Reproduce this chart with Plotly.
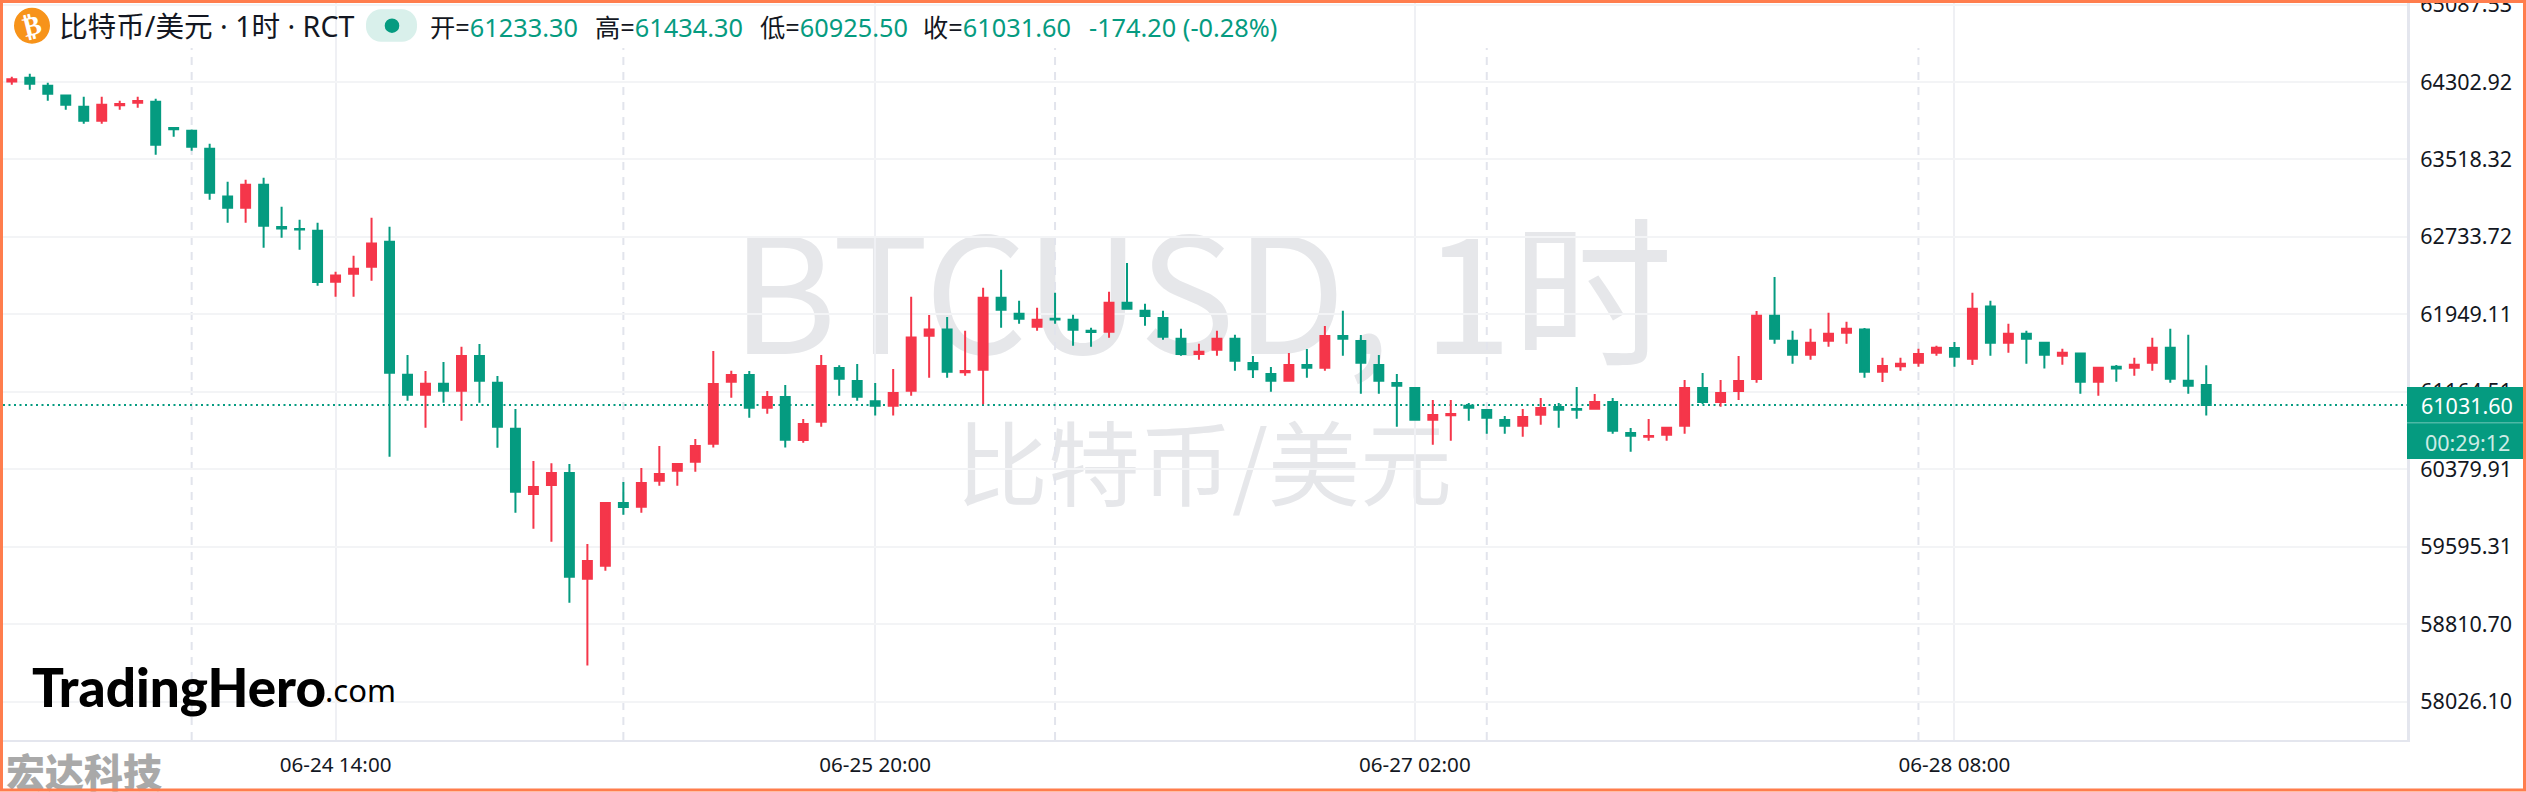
import pandas as pd
import plotly.graph_objects as go

times = pd.date_range("2024-06-23 20:00", periods=123, freq="h")
opens = [64309,64347,64266,64165,64053,63911,64067,64093,64104,63838,63810,63628,63142,63030,63263,62835,62815,62797,62281,62362,
62432,62686,61339,61136,61248,61177,61528,61258,60792,60130,60221,60343,59273,59404,60039,60002,60265,60366,60457,60640,
61268,61336,61004,61113,60677,60863,61406,61275,61069,61025,61176,61734,61795,61362,61389,62119,61957,61825,61905,61896,
61784,61774,62068,61987,61913,61703,61548,61592,61703,61457,61346,61278,61437,61410,61731,61680,61437,61254,61204,60883,
60927,61025,60981,60880,60822,60933,61011,60991,60994,61062,60748,60711,60731,60822,61204,61062,61173,61295,61936,61683,
61541,61683,61764,61795,61369,61423,61460,61562,61609,61501,62028,61663,61754,61663,61531,61552,61268,61420,61410,61460,
61612,61278,61233.30]
highs = [64357,64387,64296,64175,64154,64154,64114,64154,64134,63842,63823,63678,63293,63314,63334,63040,62909,62878,62382,62544,
62929,62838,61538,61376,61467,61622,61649,61325,60991,60464,60441,60434,59624,60049,60252,60393,60616,60444,60687,61578,
61379,61376,61173,61234,60890,61538,61433,61447,61254,61396,62129,61943,61923,61784,62220,62402,62088,62017,62169,61946,
61815,62179,62470,62058,61987,61805,61653,61784,61744,61528,61416,61558,61599,61832,61987,61741,61538,61346,61214,61082,
61082,61052,60991,60920,60991,61102,61052,61214,61143,61102,60799,60890,60812,61285,61356,61285,61528,61984,62328,61784,
61805,61967,61875,61812,61511,61511,61602,61632,61669,62169,62088,61855,61784,61673,61602,61562,61420,61437,61511,61713,
61805,61744,61434.30]
lows = [64276,64225,64114,64023,63881,63881,64023,64043,63567,63749,63607,63111,62878,62878,62625,62726,62605,62240,62129,62129,
62291,60508,61075,60802,61055,60873,61055,60599,59941,59779,59647,59030,58392,59354,59921,59941,60215,60215,60356,60600,
61106,60903,60944,60600,60650,60812,61126,61075,60924,60924,61126,61308,61308,61329,61038,61815,61855,61784,61855,61632,
61622,61713,61997,61835,61693,61531,61491,61531,61379,61305,61167,61268,61308,61379,61531,61146,61146,60812,60873,60630,
60670,60873,60741,60741,60711,60832,60802,60893,60984,60741,60559,60670,60670,60741,61042,61015,61082,61258,61653,61450,
61491,61622,61653,61308,61264,61379,61420,61531,61420,61437,61531,61562,61450,61400,61440,61146,61126,61268,61329,61379,
61258,61146,60925.50]
closes = [64330,64286,64185,64073,63911,64073,64080,64111,63668,63825,63648,63182,63030,63263,62848,62820,62810,62277,62342,62412,
62666,61359,61136,61248,61177,61528,61278,60812,60154,60201,60343,59293,59452,60039,59998,60242,60333,60434,60616,61244,
61336,61004,61113,60680,60839,61427,61298,61116,61025,61153,61714,61795,61369,61376,62119,61997,61906,61896,61897,61794,
61771,62068,62007,61933,61723,61548,61572,61703,61480,61393,61278,61437,61410,61731,61703,61460,61278,61227,60883,60930,
60940,61004,60903,60822,60910,61001,60984,60984,61062,60771,60721,60718,60802,61204,61062,61153,61275,61936,61703,61541,
61663,61754,61805,61369,61427,61450,61548,61612,61521,62007,61663,61754,61703,61541,61562,61268,61410,61400,61440,61612,
61298,61227,61031.60]

price_ticks = [65087.53,64302.92,63518.32,62733.72,61949.11,61164.51,60379.91,59595.31,58810.70,58026.10]
time_ticks = ["2024-06-24 14:00","2024-06-25 20:00","2024-06-27 02:00","2024-06-28 08:00"]
time_labels = ["06-24 14:00","06-25 20:00","06-27 02:00","06-28 08:00"]
day_marks = ["2024-06-24 06:00","2024-06-25 06:00","2024-06-26 06:00","2024-06-27 06:00","2024-06-28 06:00"]
last_price = 61031.60
countdown = "00:29:12"

UP = "#F5364A"
DOWN = "#059B80"
INK = "#131722"
WARM = "#FF7D4D"
BASE = "'Noto Sans', 'Noto Sans CJK SC', sans-serif"
CJK = "'Noto Sans CJK SC', sans-serif"

L, R, B, W, H = 3, 2407, 740, 2526, 792
def fx(p): return (p - L) / (R - L)
def fy(p): return 1 - p / B

fig = go.Figure(go.Candlestick(
    x=times, open=opens, high=highs, low=lows, close=closes,
    increasing=dict(line=dict(color=UP, width=2), fillcolor=UP),
    decreasing=dict(line=dict(color=DOWN, width=2), fillcolor=DOWN),
    whiskerwidth=0, hoverinfo="skip", showlegend=False,
))

def box(x0, y0, x1, y1, **kw):
    return dict(type="rect", xref="paper", yref="paper", x0=fx(x0), x1=fx(x1), y0=fy(y0), y1=fy(y1), **kw)

def pill(x0, y0, x1, y1, r):
    k = r * 0.45
    pts = [("M", x0 + r, y0), ("L", x1 - r, y0), ("C", x1 - k, y0, x1, y0 + k, x1, y0 + r),
           ("L", x1, y1 - r), ("C", x1, y1 - k, x1 - k, y1, x1 - r, y1), ("L", x0 + r, y1),
           ("C", x0 + k, y1, x0, y1 - k, x0, y1 - r), ("L", x0, y0 + r),
           ("C", x0, y0 + k, x0 + k, y0, x0 + r, y0)]
    out = []
    for p in pts:
        vals = p[1:]
        coords = [f"{fx(vals[i]):.6f},{fy(vals[i+1]):.6f}" for i in range(0, len(vals), 2)]
        out.append(p[0] + " ".join(coords))
    return " ".join(out) + " Z"

shapes = []
# watermark text, under the candles
shapes.append(box(702, 209, 1702, 409, layer="below", line_width=0, fillcolor="rgba(0,0,0,0)",
                  label=dict(text="BTCUSD,\u20091时", textposition="middle center",
                             font=dict(family=CJK, size=161, color="#E6E7EA"))))
shapes.append(box(904, 411, 1504, 536, layer="below", line_width=0, fillcolor="rgba(0,0,0,0)",
                  label=dict(text="比特币/美元", textposition="middle center",
                             font=dict(family=CJK, size=92, color="#E6E7EA"))))
for d in day_marks:
    shapes.append(dict(type="line", xref="x", yref="paper", x0=d, x1=d, y0=0, y1=fy(48), layer="below",
                       line=dict(color="#E2E4EC", width=2, dash="8px,7px")))
shapes.append(dict(type="line", xref="paper", yref="y", x0=0, x1=1, y0=last_price, y1=last_price, layer="below",
                   line=dict(color=DOWN, width=2, dash="2px,3.5px")))
# header pill and coin
shapes.append(dict(type="path", xref="paper", yref="paper", path=pill(366, 9.3, 417, 41.7, 15), layer="above",
                   line_width=0, fillcolor="#D9F0EB"))
shapes.append(dict(type="circle", xref="paper", yref="paper", x0=fx(384.7), x1=fx(399.3), y0=fy(18.4), y1=fy(33),
                   line_width=0, fillcolor=DOWN))
shapes.append(dict(type="circle", xref="paper", yref="paper", x0=fx(14), x1=fx(50), y0=fy(7.7), y1=fy(43.7),
                   line_width=0, fillcolor="#F7931A"))
# last price box
shapes.append(box(2407, 387, 2526, 459, layer="above", line_width=0, fillcolor=DOWN))
shapes.append(box(2407, 422, 2526, 423.5, layer="above", line_width=0, fillcolor="#4DB8A5"))
# corner mark and frame
shapes.append(box(0, 745, 300, 806, layer="above", line_width=0, fillcolor="rgba(0,0,0,0)",
                  label=dict(text="宏达科技", textposition="middle left",
                             font=dict(family=CJK, size=39, color="#A9A9A9", weight=900))))
shapes.append(box(1.5, 1.5, 2524.5, 790, layer="above", line=dict(color=WARM, width=3), fillcolor="rgba(0,0,0,0)"))

def note(text, x, y, size, color=INK, family=BASE, anchor="left", weight=None, angle=0):
    font = dict(family=family, size=size, color=color)
    if weight:
        font["weight"] = weight
    return dict(text=text, xref="paper", yref="paper", x=fx(x), y=fy(y), xanchor=anchor, yanchor="middle",
                showarrow=False, align="left", font=font, textangle=angle)

def v(s): return f'<span style="color:{DOWN}">{s}</span>'

annotations = [
    note("₿", 32, 26, 27, "#FFFFFF", "DejaVu Sans", "center", 700, -14),
    note("比特币/美元 · 1时 · RCT", 57, 26, 28.6),
    note("开=" + v("61233.30"), 428, 27, 25.3),
    note("高=" + v("61434.30"), 593, 27, 25.3),
    note("低=" + v("60925.50"), 758, 27, 25.3),
    note("收=" + v("61031.60"), 921, 27, 25.3),
    note(v("-174.20 (-0.28%)"), 1087, 27, 25.3),
    note("TradingHero", 30, 686, 53, "#000000", "Lato, sans-serif", "left", 900),
    note(".com", 323, 690, 31, "#000000", BASE),
    note(f"{last_price:.2f}", 2467, 406, 21.5, "#FFFFFF", BASE, "center"),
    note(countdown, 2467, 442, 21.5, "#CDEBE5", BASE, "center"),
]

fig.update_layout(
    width=W, height=H, margin=dict(l=L, r=W - R, t=0, b=H - B),
    paper_bgcolor="#FFFFFF", plot_bgcolor="#FFFFFF",
    boxgap=0.29, boxgroupgap=0.3, showlegend=False,
    font=dict(family=BASE, size=21, color=INK),
    shapes=shapes, annotations=annotations,
    xaxis=dict(
        type="date", range=["2024-06-23 19:30:40", "2024-06-29 09:09:36"],
        tickmode="array", tickvals=time_ticks, ticktext=time_labels, ticks="", automargin=False,
        ticklabelstandoff=5, tickangle=0, tickfont=dict(size=20.6),
        showgrid=True, gridcolor="#EFF0F4", gridwidth=2,
        showline=True, linecolor="#E4E6EE", linewidth=2, zeroline=False,
        rangeslider=dict(visible=False), fixedrange=True,
    ),
    yaxis=dict(
        side="right", range=[57638.7, 65133.4], automargin=False,
        tickmode="array", tickvals=price_ticks, ticktext=[f"{p:.2f}" for p in price_ticks], ticks="",
        ticklabelstandoff=6, ticklabeloverflow="allow", tickfont=dict(size=21.5),
        showgrid=True, gridcolor="#F3F4F6", gridwidth=2,
        showline=True, linecolor="#E4E6EE", linewidth=3, zeroline=False, fixedrange=True,
    ),
)

fig.write_html("out.html", config=dict(displayModeBar=False),
               post_script="document.body.style.margin='0';document.body.style.overflow='hidden';")
